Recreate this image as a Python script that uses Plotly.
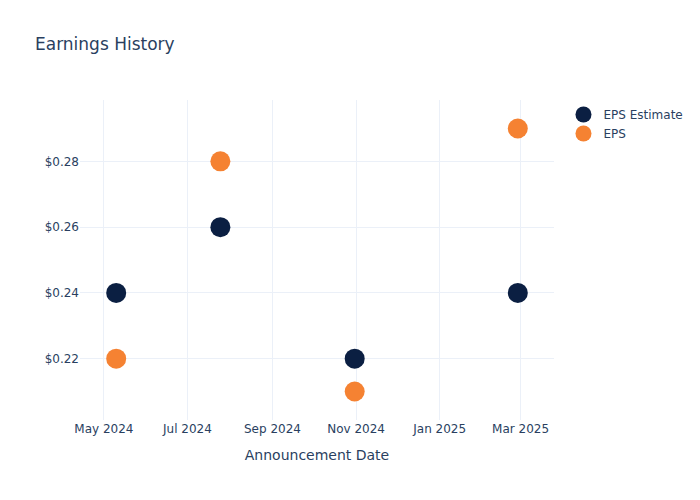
import plotly.graph_objects as go

# Earnings announcement data
dates = ["2024-05-10", "2024-07-25", "2024-10-31", "2025-02-27"]
eps_estimate = [0.24, 0.26, 0.22, 0.24]
eps_actual = [0.22, 0.28, 0.21, 0.29]

fig = go.Figure()

fig.add_trace(go.Scatter(x=dates, y=eps_estimate, mode='markers', name='EPS Estimate',
                         marker=dict(color='#0b1f42', size=20)))
fig.add_trace(go.Scatter(x=dates, y=eps_actual, mode='markers', name='EPS',
                         marker=dict(color='#f58232', size=20)))

fig.update_layout(
    template='plotly_white',
    width=700, height=500,
    font=dict(family="DejaVu Sans"),
    title="Earnings History",
    xaxis_title="Announcement Date",
    yaxis=dict(tickprefix="$", tickformat=".2f"),
)
# page has a default body margin; drop it so the figure sits at 0,0
fig.write_html("out.html", config={"displayModeBar": False},
               post_script="document.body.style.margin='0px';")
